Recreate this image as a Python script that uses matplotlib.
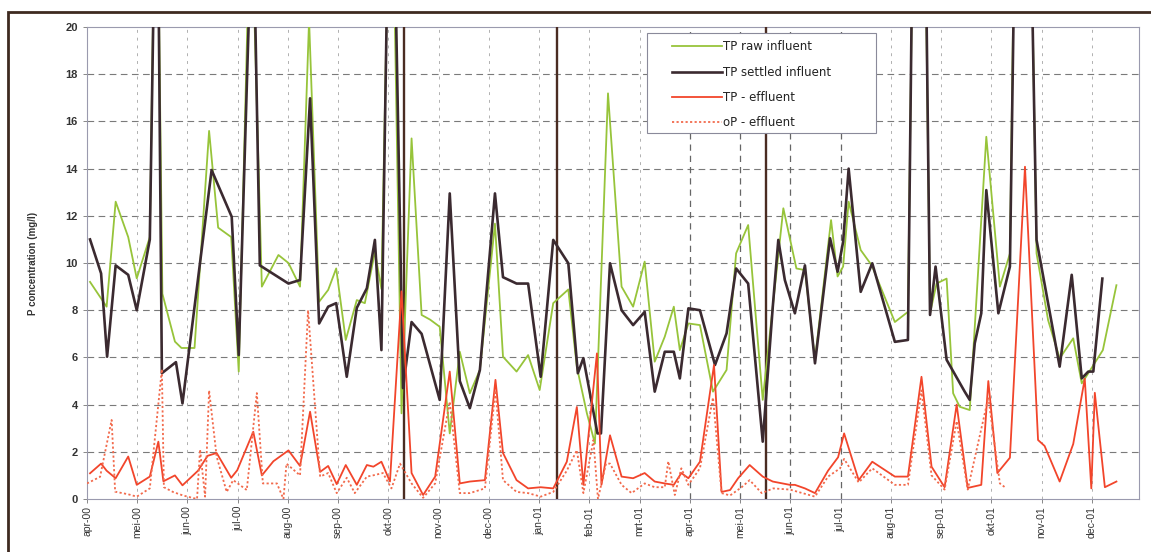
import matplotlib
matplotlib.use("Agg")
import matplotlib.pyplot as plt
from matplotlib.patches import Rectangle

plt.rcParams['font.family'] = ['Liberation Sans', 'DejaVu Sans']

# x = months since apr-00 (fractional), y = mg/l
months = ['apr-00', 'mei-00', 'jun-00', 'jul-00', 'aug-00', 'sep-00', 'okt-00',
          'nov-00', 'dec-00', 'jan-01', 'feb-01', 'mrt-01', 'apr-01', 'mei-01',
          'jun-01', 'jul-01', 'aug-01', 'sep-01', 'okt-01', 'nov-01', 'dec-01']

raw_x = [0.06, 0.39, 0.57, 0.82, 0.99, 1.25, 1.38, 1.50, 1.75, 1.88, 2.14, 2.43, 2.61, 2.87,
         3.02, 3.26, 3.48, 3.81, 4.01, 4.24, 4.42, 4.62, 4.80, 4.96, 5.15, 5.37, 5.53, 5.73,
         5.86, 6.05, 6.26, 6.46, 6.66, 6.83, 7.02, 7.22, 7.42, 7.62, 7.82, 8.12, 8.28, 8.55,
         8.78, 9.01, 9.28, 9.58, 9.75, 9.95, 10.11, 10.37, 10.64, 10.87, 11.10, 11.30, 11.50,
         11.68, 11.80, 11.97, 12.20, 12.46, 12.73, 12.92, 13.16, 13.45, 13.86, 14.12, 14.29,
         14.49, 14.81, 14.94, 15.05, 15.16, 15.40, 15.62, 16.08, 16.34, 16.56, 16.78, 16.91,
         17.11, 17.24, 17.37, 17.57, 17.90, 18.17, 18.37, 18.61, 18.90, 19.13, 19.36, 19.63,
         19.80, 19.93, 20.22, 20.49]
raw_y = [9.2, 8.15, 12.6, 11.1, 9.35, 11.1, 30, 8.7, 6.67, 6.4, 6.4, 15.6, 11.5, 11.1,
         5.4, 26, 9.0, 10.34, 10.0, 9.0, 20.3, 8.36, 8.86, 9.77, 6.74, 8.43, 8.3, 10.48,
         8.9, 30, 3.63, 15.28, 7.8, 7.6, 7.3, 2.78, 6.24, 4.48, 5.47, 11.67, 6.03, 5.4,
         6.1, 4.62, 8.3, 8.88, 5.6, 3.63, 2.35, 17.19, 9.0, 8.15, 10.06, 5.82, 6.88,
         8.15, 6.31, 7.44, 7.37, 4.55, 5.47, 10.41, 11.61, 4.2, 12.32, 9.77, 9.7,
         5.9, 11.82, 9.43, 9.85, 12.6, 10.55, 9.9, 7.5, 7.93, 45, 7.87, 9.13,
         9.34, 4.48, 3.91, 3.77, 15.35, 9.0, 10.4, 48, 10.41, 7.58, 5.96, 6.81,
         4.9, 5.33, 6.31, 9.06]

settled_x = [0.06, 0.28, 0.40, 0.57, 0.82, 0.99, 1.25, 1.39, 1.49, 1.77, 1.90, 2.48, 2.88, 3.02,
             3.30, 3.44, 4.01, 4.24, 4.44, 4.62, 4.80, 4.96, 5.17, 5.37, 5.57, 5.73, 5.86, 6.05,
             6.29, 6.46, 6.66, 7.02, 7.22, 7.42, 7.62, 7.82, 8.12, 8.28, 8.55, 8.78, 9.03, 9.28,
             9.41, 9.58, 9.77, 9.88, 10.16, 10.23, 10.41, 10.64, 10.87, 11.10, 11.30, 11.50,
             11.68, 11.80, 11.97, 12.20, 12.50, 12.73, 12.92, 13.16, 13.45, 13.65, 13.76, 13.89,
             14.09, 14.29, 14.49, 14.79, 14.94, 15.05, 15.16, 15.40, 15.63, 16.08, 16.34, 16.56,
             16.78, 16.89, 17.11, 17.47, 17.57, 17.67, 17.80, 17.90, 18.14, 18.37, 18.61, 18.90,
             19.36, 19.60, 19.80, 19.93, 20.03, 20.21]
settled_y = [11.0, 9.56, 6.03, 9.9, 9.5, 8.0, 11.0, 30, 5.33, 5.8, 4.05, 13.94, 11.96, 6.1,
             26, 9.9, 9.13, 9.28, 16.98, 7.44, 8.15, 8.3, 5.18, 8.1, 8.93, 10.98, 6.31, 32,
             4.7, 7.5, 7.0, 4.2, 12.95, 5.0, 3.85, 5.47, 12.95, 9.4, 9.13, 9.13, 5.18, 10.98,
             10.55, 9.99, 5.33, 5.97, 2.78, 2.78, 9.99, 8.0, 7.37, 7.93, 4.55, 6.24,
             6.24, 5.11, 8.08, 8.0, 5.68, 7.02, 9.77, 9.13, 2.43, 8.15, 10.98, 9.28,
             7.87, 9.9, 5.75, 11.05, 9.63, 10.9, 14.0, 8.78, 9.99, 6.66, 6.74, 48,
             7.8, 9.85, 5.9, 4.55, 4.2, 6.6, 7.87, 13.09, 7.87, 9.85, 45, 10.98,
             5.61, 9.5, 5.11, 5.4, 5.4, 9.34]

tp_eff_x = [0.06, 0.28, 0.39, 0.57, 0.82, 0.99, 1.25, 1.42, 1.52, 1.75, 1.90, 2.21, 2.40, 2.58,
            2.87, 2.99, 3.31, 3.48, 3.71, 4.01, 4.24, 4.44, 4.64, 4.80, 4.97, 5.15, 5.37, 5.57,
            5.70, 5.86, 6.03, 6.26, 6.46, 6.69, 6.93, 7.22, 7.42, 7.62, 7.92, 8.13, 8.28, 8.55,
            8.78, 9.03, 9.28, 9.55, 9.75, 9.88, 10.15, 10.24, 10.41, 10.64, 10.87, 11.10, 11.30,
            11.50, 11.68, 11.83, 11.97, 12.20, 12.48, 12.63, 12.80, 12.96, 13.19, 13.45, 13.65,
            13.99, 14.09, 14.29, 14.49, 14.75, 14.95, 15.07, 15.36, 15.63, 16.08, 16.34, 16.61,
            16.81, 17.07, 17.31, 17.53, 17.80, 17.94, 18.12, 18.37, 18.67, 18.93, 19.06, 19.36,
            19.63, 19.86, 19.99, 20.06, 20.26, 20.49]
tp_eff_y = [1.09, 1.5, 1.2, 0.88, 1.8, 0.6, 0.95, 2.43, 0.75, 1.0, 0.58, 1.2, 1.83, 1.95,
            0.9, 1.22, 2.85, 1.0, 1.6, 2.06, 1.4, 3.7, 1.15, 1.4, 0.63, 1.44, 0.6, 1.44,
            1.37, 1.58, 0.74, 8.8, 1.1, 0.17, 0.95, 5.4, 0.66, 0.74, 0.8, 5.05, 1.95, 0.8,
            0.45, 0.5, 0.45, 1.58, 3.9, 0.6, 6.17, 0.6, 2.7, 0.95, 0.88, 1.1, 0.74,
            0.66, 0.6, 1.1, 0.88, 1.58, 5.68, 0.3, 0.38, 0.88, 1.44, 0.95, 0.74,
            0.6, 0.6, 0.45, 0.25, 1.2, 1.77, 2.78, 0.8, 1.58, 0.95, 0.95, 5.18,
            1.37, 0.5, 4.0, 0.47, 0.6, 5.0, 1.1, 1.75, 14.08, 2.5, 2.25, 0.74,
            2.33, 5.1, 0.45, 4.5, 0.5, 0.74]

op_eff_x = [0.0, 0.26, 0.49, 0.56, 0.82, 0.99, 1.25, 1.49, 1.53, 1.71, 1.91, 2.19, 2.25, 2.35,
            2.43, 2.58, 2.78, 2.91, 3.18, 3.38, 3.50, 3.78, 3.91, 3.97, 4.24, 4.40, 4.64, 4.80,
            4.97, 5.17, 5.33, 5.57, 5.69, 5.89, 6.06, 6.23, 6.46, 6.69, 6.93, 7.22, 7.42, 7.62,
            7.92, 8.13, 8.28, 8.55, 8.78, 9.03, 9.28, 9.55, 9.75, 9.88, 10.08, 10.17, 10.33,
            10.41, 10.64, 10.84, 11.10, 11.30, 11.50, 11.57, 11.70, 11.83, 11.97, 12.20, 12.46,
            12.63, 12.80, 13.03, 13.19, 13.43, 13.66, 13.99, 14.49, 14.75, 14.99, 15.07, 15.36,
            15.63, 16.08, 16.34, 16.61, 16.81, 17.07, 17.31, 17.53, 17.94, 18.17, 18.27]
op_eff_y = [0.66, 0.94, 3.35, 0.31, 0.2, 0.1, 0.45, 5.5, 0.5, 0.3, 0.15, 0.0, 2.1, 0.1,
            4.6, 1.8, 0.3, 0.8, 0.38, 4.49, 0.66, 0.66, 0.0, 1.5, 1.0, 8.0, 0.95, 1.1,
            0.25, 0.9, 0.25, 0.95, 1.0, 1.1, 0.45, 1.5, 0.66, 0.05, 0.66, 4.13, 0.25, 0.25,
            0.45, 4.6, 0.8, 0.3, 0.25, 0.1, 0.3, 1.2, 2.07, 0.25, 2.5, 0.0, 1.5,
            1.5, 0.6, 0.25, 0.66, 0.5, 0.5, 1.6, 0.17, 1.3, 0.6, 1.3, 4.3,
            0.25, 0.15, 0.5, 0.8, 0.25, 0.45, 0.4, 0.1, 0.95, 1.3, 1.7, 0.7,
            1.3, 0.6, 0.6, 4.6, 1.0, 0.4, 3.3, 0.4, 4.3, 0.66, 0.5]

# dates of process changes (vertical markers)
events = [6.31, 9.36, 13.51]

fig = plt.figure(figsize=(11.51, 5.52), dpi=100)
ax = fig.add_axes([0.0756, 0.096, 0.914, 0.855])

# grid
for v in range(2, 20, 2):
    ax.axhline(v, color='#7a7a7a', lw=0.8, dashes=(6, 4), zorder=0)
for m in range(1, len(months)):
    dark = months[m] in ('apr-01', 'mei-01', 'jun-01', 'jul-01')
    ax.axvline(m, color='#666666' if dark else '#b0b0b0', lw=0.9 if dark else 0.7,
               dashes=(5, 4) if dark else (3, 5), zorder=0)

for e in events:
    ax.axvline(e, color='#4a2c22', lw=1.7, zorder=3)

ax.plot(raw_x, raw_y, color='#97c43a', lw=1.3, label='TP raw influent', zorder=4)
ax.plot(settled_x, settled_y, color='#3b2a30', lw=1.9, label='TP settled influent', zorder=5)
ax.plot(tp_eff_x, tp_eff_y, color='#f2452b', lw=1.3, label='TP - effluent', zorder=6)
ax.plot(op_eff_x, op_eff_y, color='#f26a4c', lw=1.3, ls=(0, (1.2, 1.3)),
        label='oP - effluent', zorder=6)

ax.set_xlim(0, 20.94)
ax.set_ylim(0, 20)
ax.set_yticks(range(0, 21, 2))
ax.set_xticks(range(len(months)))
ax.set_xticklabels(months, rotation=90, fontsize=7.5, color='#333333')
ax.tick_params(axis='y', labelsize=8, labelcolor='#333333', length=3, width=0.7, color='#888888')
ax.tick_params(axis='x', length=3, width=0.7, color='#888888', pad=2)
for lab in ax.get_yticklabels():
    lab.set_fontweight('bold')

ax.set_ylabel('P concentration (mg/l)', fontsize=7, fontweight='bold', color='#333333')
ax.yaxis.set_label_coords(-0.047, 0.5)

for side in ['left', 'bottom', 'right', 'top']:
    ax.spines[side].set_color('#9a9aae')
    ax.spines[side].set_linewidth(0.8)

# legend box drawn separately so it can be wider than the entries
ax.add_patch(Rectangle((0.532, 0.775), 0.218, 0.212, transform=ax.transAxes,
                       facecolor='white', edgecolor='#8a8a9a', lw=0.8, zorder=9))
leg = ax.legend(loc='upper left', bbox_to_anchor=(0.556, 0.972), borderaxespad=0,
                borderpad=0, frameon=False, prop={'family': 'DejaVu Sans', 'size': 8.5},
                handlelength=4.2, handletextpad=0.15, labelspacing=1.05)
leg.set_zorder(10)
for t in leg.get_texts():
    t.set_color('#222222')

# outer chart border
fig.patches.append(Rectangle((8 / 1151, -0.02), 1.05, 1 - 12 / 552 + 0.02,
                             transform=fig.transFigure, fill=False,
                             edgecolor='#3e2a20', lw=2.0))

fig.savefig('out.png', dpi=100)
